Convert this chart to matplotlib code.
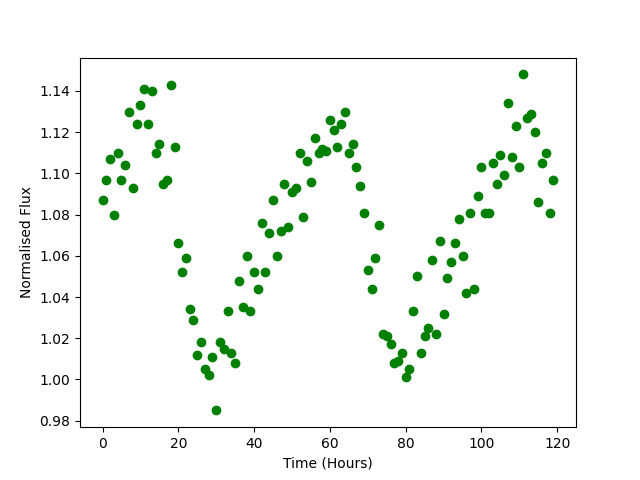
import numpy as np
import matplotlib
matplotlib.use("Agg")
import matplotlib.pyplot as plt

time_hours = np.arange(120)
flux = [
    1.087, 1.097, 1.107, 1.080, 1.110, 1.097, 1.104, 1.130, 1.093, 1.124,
    1.133, 1.141, 1.124, 1.140, 1.110, 1.114, 1.095, 1.097, 1.143, 1.113,
    1.066, 1.052, 1.059, 1.034, 1.029, 1.012, 1.018, 1.005, 1.002, 1.011,
    0.985, 1.018, 1.015, 1.033, 1.013, 1.008, 1.048, 1.035, 1.060, 1.033,
    1.052, 1.044, 1.076, 1.052, 1.071, 1.087, 1.060, 1.072, 1.095, 1.074,
    1.091, 1.093, 1.110, 1.079, 1.106, 1.096, 1.117, 1.110, 1.112, 1.111,
    1.126, 1.121, 1.113, 1.124, 1.130, 1.110, 1.114, 1.103, 1.094, 1.081,
    1.053, 1.044, 1.059, 1.075, 1.022, 1.021, 1.017, 1.008, 1.009, 1.013,
    1.001, 1.005, 1.033, 1.050, 1.013, 1.021, 1.025, 1.058, 1.022, 1.067,
    1.032, 1.049, 1.057, 1.066, 1.078, 1.060, 1.042, 1.081, 1.044, 1.089,
    1.103, 1.081, 1.081, 1.105, 1.095, 1.109, 1.099, 1.134, 1.108, 1.123,
    1.103, 1.148, 1.127, 1.129, 1.120, 1.086, 1.105, 1.110, 1.081, 1.097,
]

fig, ax = plt.subplots(figsize=(6.4, 4.8), dpi=100)
ax.plot(time_hours, flux, 'go')
ax.set_xlabel('Time (Hours)')
ax.set_ylabel('Normalised Flux')
fig.savefig('out.png')
